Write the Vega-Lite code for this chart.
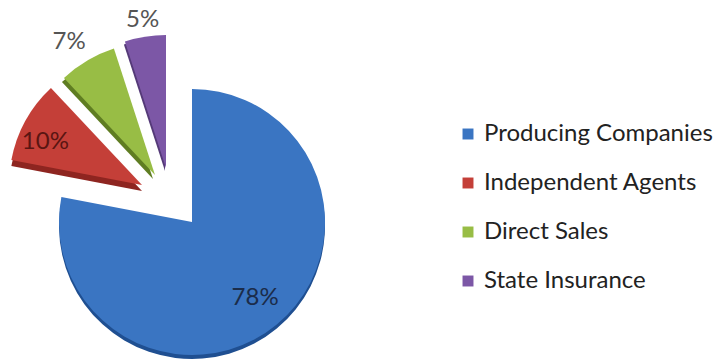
{
  "$schema": "https://vega.github.io/schema/vega-lite/v6.json",
  "width": 384,
  "height": 444,
  "padding": 0,
  "background": "white",
  "config": {"view": {"stroke": null}, "font": "Lato"},
  "data": {"values": [
    {"cat": "Producing Companies", "value": 78, "label": "78%"},
    {"cat": "Independent Agents", "value": 10, "label": "10%"},
    {"cat": "Direct Sales", "value": 7, "label": "7%"},
    {"cat": "State Insurance", "value": 5, "label": "5%"}
  ]},
  "transform": [
    {"stack": "value", "groupby": [], "sort": [{"field": "value", "order": "descending"}], "as": ["v0", "v1"]},
    {"calculate": "(datum.v0 + datum.v1) / 2", "as": "mid"}
  ],
  "layer": [
    {"transform": [{"filter": "datum.cat === 'Producing Companies'"}],
     "mark": {"type": "arc", "outerRadius": 133, "yOffset": 4, "color": "#1f4f91"},
     "encoding": {"theta": {"field": "v0", "type": "quantitative", "scale": {"domain": [0, 100]}}, "theta2": {"field": "v1"}}},
    {"transform": [{"filter": "datum.cat === 'Independent Agents'"}],
     "mark": {"type": "arc", "outerRadius": 133, "xOffset": -50, "yOffset": -31, "color": "#8e2520"},
     "encoding": {"theta": {"field": "v0", "type": "quantitative", "scale": {"domain": [0, 100]}}, "theta2": {"field": "v1"}}},
    {"transform": [{"filter": "datum.cat === 'Direct Sales'"}],
     "mark": {"type": "arc", "outerRadius": 133, "xOffset": -39, "yOffset": -43, "color": "#5f7d22"},
     "encoding": {"theta": {"field": "v0", "type": "quantitative", "scale": {"domain": [0, 100]}}, "theta2": {"field": "v1"}}},
    {"transform": [{"filter": "datum.cat === 'State Insurance'"}],
     "mark": {"type": "arc", "outerRadius": 133, "xOffset": -27, "yOffset": -51, "color": "#553a78"},
     "encoding": {"theta": {"field": "v0", "type": "quantitative", "scale": {"domain": [0, 100]}}, "theta2": {"field": "v1"}}},

    {"transform": [{"filter": "datum.cat === 'Producing Companies'"}],
     "mark": {"type": "arc", "outerRadius": 133},
     "encoding": {"theta": {"field": "v0", "type": "quantitative", "scale": {"domain": [0, 100]}}, "theta2": {"field": "v1"},
       "color": {"field": "cat", "type": "nominal", "scale": {"domain": ["Producing Companies", "Independent Agents", "Direct Sales", "State Insurance"], "range": ["#3a75c2", "#c43f38", "#98bd45", "#7c57a6"]},
         "legend": {"title": null, "orient": "none", "legendX": 456, "legendY": 122, "symbolType": "square", "symbolSize": 120, "symbolStrokeWidth": 0, "labelFontSize": 24, "labelFont": "Lato", "labelColor": "#222222", "labelOffset": 4, "rowPadding": 25, "labelLimit": 300}}}},
    {"transform": [{"filter": "datum.cat === 'Independent Agents'"}],
     "mark": {"type": "arc", "outerRadius": 133, "xOffset": -50, "yOffset": -37},
     "encoding": {"theta": {"field": "v0", "type": "quantitative", "scale": {"domain": [0, 100]}}, "theta2": {"field": "v1"}, "color": {"field": "cat", "type": "nominal"}}},
    {"transform": [{"filter": "datum.cat === 'Direct Sales'"}],
     "mark": {"type": "arc", "outerRadius": 133, "xOffset": -37, "yOffset": -47},
     "encoding": {"theta": {"field": "v0", "type": "quantitative", "scale": {"domain": [0, 100]}}, "theta2": {"field": "v1"}, "color": {"field": "cat", "type": "nominal"}}},
    {"transform": [{"filter": "datum.cat === 'State Insurance'"}],
     "mark": {"type": "arc", "outerRadius": 133, "xOffset": -26, "yOffset": -54},
     "encoding": {"theta": {"field": "v0", "type": "quantitative", "scale": {"domain": [0, 100]}}, "theta2": {"field": "v1"}, "color": {"field": "cat", "type": "nominal"}}},

    {"transform": [{"filter": "datum.cat === 'Producing Companies'"}],
     "mark": {"type": "text", "radius": 99, "fontSize": 24, "color": "#1b2c4a"},
     "encoding": {"theta": {"field": "mid", "type": "quantitative", "scale": {"domain": [0, 100]}}, "text": {"field": "label"}}},
    {"transform": [{"filter": "datum.cat === 'Independent Agents'"}],
     "mark": {"type": "text", "radius": 108, "fontSize": 24, "color": "#5a1512", "xOffset": -52, "yOffset": -28},
     "encoding": {"theta": {"field": "mid", "type": "quantitative", "scale": {"domain": [0, 100]}}, "text": {"field": "label"}}},
    {"transform": [{"filter": "datum.cat === 'Direct Sales'"}],
     "mark": {"type": "text", "radius": 155, "fontSize": 24, "color": "#555555", "xOffset": -44, "yOffset": -47},
     "encoding": {"theta": {"field": "mid", "type": "quantitative", "scale": {"domain": [0, 100]}}, "text": {"field": "label"}}},
    {"transform": [{"filter": "datum.cat === 'State Insurance'"}],
     "mark": {"type": "text", "radius": 150, "fontSize": 24, "color": "#555555", "xOffset": -26, "yOffset": -54},
     "encoding": {"theta": {"field": "mid", "type": "quantitative", "scale": {"domain": [0, 100]}}, "text": {"field": "label"}}}
  ]
}
